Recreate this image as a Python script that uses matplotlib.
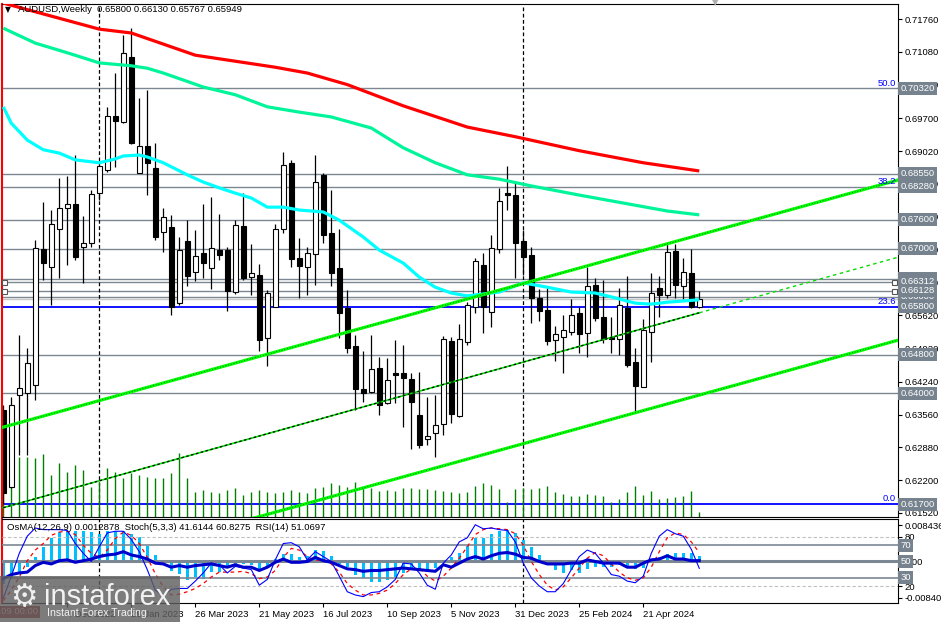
import numpy as np
import matplotlib
matplotlib.use("Agg")
import matplotlib.pyplot as plt
from matplotlib.patches import Rectangle

plt.rcParams['font.family'] = ['Liberation Sans', 'DejaVu Sans']

W, H = 941, 622
FS = 6.8

# weekly AUDUSD bars, bar 0 = week of 9 Oct 2022
opens = [0.6366, 0.6206, 0.6397, 0.6401, 0.6417, 0.6699, 0.6662, 0.6741, 0.6784, 0.6793,
         0.6703, 0.6712, 0.6815, 0.6863, 0.6975, 0.6963, 0.7097, 0.6857, 0.6913, 0.6867,
         0.6735, 0.6745, 0.6587, 0.6716, 0.6652, 0.6691, 0.6660, 0.6697, 0.6697, 0.6610,
         0.6747, 0.6641, 0.6645, 0.6515, 0.6579, 0.6741, 0.6878, 0.6681, 0.6662, 0.6689,
         0.6853, 0.6732, 0.6660, 0.6577, 0.6498, 0.6409, 0.6403, 0.6453, 0.6380, 0.6442,
         0.6442, 0.6430, 0.6355, 0.6305, 0.6318, 0.6336, 0.6509, 0.6353, 0.6507, 0.6579,
         0.6666, 0.6569, 0.6699, 0.6815, 0.6811, 0.6716, 0.6687, 0.6597, 0.6573, 0.6511,
         0.6517, 0.6527, 0.6566, 0.6525, 0.6625, 0.6558, 0.6517, 0.6513, 0.6577, 0.6465,
         0.6413, 0.6527, 0.6618, 0.6603, 0.6695, 0.6623, 0.6650, 0.65800]
highs = [0.6376, 0.6392, 0.6521, 0.6494, 0.6718, 0.6797, 0.6780, 0.6846, 0.6851, 0.6894,
         0.6768, 0.6822, 0.6874, 0.6994, 0.7064, 0.7143, 0.7157, 0.7012, 0.7029, 0.6919,
         0.6784, 0.6770, 0.6724, 0.6759, 0.6739, 0.6793, 0.6807, 0.6772, 0.6703, 0.6759,
         0.6815, 0.6710, 0.6668, 0.6614, 0.6751, 0.6900, 0.6884, 0.6722, 0.6703, 0.6894,
         0.6857, 0.6822, 0.6741, 0.6614, 0.6521, 0.6488, 0.6521, 0.6475, 0.6473, 0.6511,
         0.6500, 0.6442, 0.6444, 0.6392, 0.6397, 0.6519, 0.6517, 0.6544, 0.6589, 0.6681,
         0.6691, 0.6728, 0.6826, 0.6871, 0.6838, 0.6739, 0.6703, 0.6616, 0.6618, 0.6540,
         0.6562, 0.6596, 0.6579, 0.6662, 0.6639, 0.6635, 0.6558, 0.6618, 0.6643, 0.6494,
         0.6554, 0.6650, 0.6643, 0.6710, 0.6710, 0.6681, 0.6699, 0.66130]
lows = [0.6170, 0.6204, 0.6272, 0.6272, 0.6386, 0.6635, 0.6583, 0.6639, 0.6666, 0.6676,
        0.6629, 0.6703, 0.6800, 0.6859, 0.6869, 0.6960, 0.6916, 0.6857, 0.6811, 0.6718,
        0.6693, 0.6562, 0.6583, 0.6623, 0.6633, 0.6639, 0.6616, 0.6676, 0.6571, 0.6606,
        0.6635, 0.6604, 0.6488, 0.6457, 0.6579, 0.6732, 0.6662, 0.6597, 0.6603, 0.6625,
        0.6712, 0.6623, 0.6515, 0.6484, 0.6366, 0.6382, 0.6401, 0.6355, 0.6378, 0.6380,
        0.6330, 0.6285, 0.6286, 0.6293, 0.6268, 0.6314, 0.6339, 0.6351, 0.6500, 0.6567,
        0.6525, 0.6538, 0.6691, 0.6780, 0.6639, 0.6645, 0.6545, 0.6550, 0.6500, 0.6467,
        0.6442, 0.6521, 0.6484, 0.6475, 0.6550, 0.6504, 0.6484, 0.6480, 0.6455, 0.6361,
        0.6413, 0.6465, 0.6558, 0.6597, 0.6598, 0.6596, 0.6577, 0.65767]
closes = [0.6193, 0.6376, 0.6411, 0.6463, 0.6701, 0.6670, 0.6751, 0.6784, 0.6793, 0.6683,
          0.6712, 0.6813, 0.6871, 0.6975, 0.6965, 0.7106, 0.6919, 0.6913, 0.6878, 0.6724,
          0.6766, 0.6579, 0.6697, 0.6643, 0.6685, 0.6670, 0.6701, 0.6687, 0.6612, 0.6749,
          0.6639, 0.6650, 0.6511, 0.6608, 0.6741, 0.6873, 0.6679, 0.6664, 0.6691, 0.6838,
          0.6728, 0.6650, 0.6567, 0.6494, 0.6409, 0.6401, 0.6450, 0.6376, 0.6428, 0.6438,
          0.6432, 0.6382, 0.6293, 0.6312, 0.6334, 0.6513, 0.6357, 0.6513, 0.6583, 0.6674,
          0.6579, 0.6701, 0.6799, 0.6811, 0.6712, 0.6683, 0.6597, 0.6571, 0.6509, 0.6523,
          0.6531, 0.6562, 0.6523, 0.6623, 0.6556, 0.6513, 0.6513, 0.6583, 0.6459, 0.6415,
          0.6531, 0.6608, 0.6603, 0.6693, 0.6625, 0.6652, 0.6580, 0.65949]
volumes = [60, 59, 60, 60, 59, 63, 42, 54, 45, 52,
           47, 30, 35, 49, 45, 39, 44, 42, 40, 39,
           39, 44, 64, 39, 25, 27, 25, 24, 27, 29,
           22, 25, 27, 25, 24, 25, 27, 25, 24, 29,
           30, 34, 32, 30, 35, 29, 29, 26, 27, 26,
           29, 29, 28, 28, 27, 26, 25, 24, 25, 31,
           34, 32, 28, 15, 28, 29, 28, 29, 31, 25,
           23, 21, 21, 23, 22, 21, 15, 18, 25, 31,
           22, 26, 18, 19, 20, 21, 26, 5]

# moving averages, read at selected bars
ma_red_idx = [0, 12, 16, 24, 34, 38, 43, 50, 58, 64, 72, 80, 87]
ma_red = [0.7209, 0.7155, 0.7147, 0.7101, 0.7076, 0.7064, 0.7040, 0.6996, 0.6952, 0.6932,
          0.6903, 0.6878, 0.6861]
ma_green_idx = [0, 4, 8, 12, 16, 18, 20, 25, 29, 33, 37, 41, 46, 50, 54, 58, 62, 66, 72, 79, 83, 87]
ma_green = [0.7157, 0.7126, 0.7106, 0.7085, 0.7079, 0.7074, 0.7064, 0.7035, 0.7019, 0.6994,
            0.6983, 0.6973, 0.6950, 0.6909, 0.6878, 0.6853, 0.6844, 0.6830, 0.6811, 0.6790,
            0.6778, 0.6770]
ma_cyan_idx = [0, 1, 3, 5, 7, 9, 12, 14, 15, 17, 18, 20, 23, 25, 27, 29, 31, 33, 35, 37,
               40, 42, 45, 47, 50, 52, 54, 56, 58, 62, 65, 68, 71, 74, 76, 79, 81, 83, 87]
ma_cyan = [0.6994, 0.6960, 0.6925, 0.6905, 0.6898, 0.6884, 0.6878, 0.6886, 0.6892, 0.6894,
           0.6890, 0.6878, 0.6853, 0.6838, 0.6826, 0.6815, 0.6805, 0.6786, 0.6786, 0.6780,
           0.6776, 0.6759, 0.6724, 0.6697, 0.6670, 0.6641, 0.6620, 0.6608, 0.6602, 0.6610,
           0.6629, 0.6620, 0.6610, 0.6608, 0.6600, 0.6587, 0.6585, 0.6589, 0.6594]

# trend channel anchors (bar, price)
chan_upper = ([0, 111.8], [0.6330, 0.6842])
chan_lower = ([0, 111.8], [0.5998, 0.6510])
chan_mid = ([0, 87], [0.6163, 0.6567])
chan_mid_ext = ([87, 111.8], [0.6567, 0.6682])

gray_levels = [0.70320, 0.68550, 0.68280, 0.67600, 0.67000, 0.66380, 0.66312, 0.66000,
               0.66128, 0.64800, 0.64000]
blue_levels = [0.65800, 0.61700]
bid = 0.65949
fib_labels = [('50.0', 0.70320), ('38.2', 0.68280), ('23.6', 0.65800), ('0.0', 0.61700)]
price_ticks = [0.71760, 0.71080, 0.70400, 0.69700, 0.69020, 0.68340, 0.67660, 0.66980,
               0.66300, 0.65620, 0.64920, 0.64240, 0.63560, 0.62880, 0.62200, 0.61520]
separators = [12, 65]
date_idx = [8, 16, 24, 32, 40, 48, 56, 64, 72, 80]
date_labels = ['4 Dec 2022', '29 Jan 2023', '26 Mar 2023', '21 May 2023', '16 Jul 2023',
               '10 Sep 2023', '5 Nov 2023', '31 Dec 2023', '25 Feb 2024', '21 Apr 2024']

# indicator window
osma = [-0.0052, -0.0040, -0.0029, -0.0012, 0.0010, 0.0035, 0.0055, 0.0068, 0.0072, 0.0072,
        0.0071, 0.0068, 0.0065, 0.0071, 0.0071, 0.0071, 0.0065, 0.0057, 0.0037, 0.0016,
        -0.0002, -0.0021, -0.0029, -0.0044, -0.0037, -0.0040, -0.0025, -0.0025, -0.0013, -0.0013,
        -0.0005, -0.0009, -0.0021, -0.0013, 0.0006, 0.0018, 0.0018, 0.0010, 0.0014, 0.0026,
        0.0024, 0.0012, -0.0005, -0.0013, -0.0031, -0.0039, -0.0047, -0.0047, -0.0043, -0.0035,
        -0.0027, -0.0020, -0.0020, -0.0024, -0.0016, 0.0004, 0.0011, 0.0021, 0.0036, 0.0054,
        0.0054, 0.0064, 0.0072, 0.0073, 0.0066, 0.0050, 0.0033, 0.0015, -0.0006, -0.0020,
        -0.0026, -0.0020, -0.0026, -0.0017, -0.0012, -0.0012, -0.0013, -0.0008, -0.0013, -0.0018,
        -0.0016, 0.0005, 0.0011, 0.0017, 0.0021, 0.0021, 0.0019, 0.0013]
rsi = [29, 34, 36, 37, 45, 49, 47, 51, 52, 49,
       51, 53, 56, 58, 59, 62, 58, 56, 53, 48,
       47, 43, 45, 43, 45, 46, 47, 45, 43, 46,
       43, 43, 39, 43, 49, 53, 49, 49, 50, 55,
       51, 49, 45, 41, 40, 38, 39, 39, 40, 41,
       42, 41, 40, 39, 38, 46, 43, 48, 53, 56,
       53, 57, 60, 61, 59, 55, 54, 50, 47, 47,
       47, 48, 48, 52, 50, 48, 48, 48, 43, 43,
       48, 52, 53, 57, 53, 53, 51, 51.07]
stoch_main = [5, 32, 60, 81, 91, 89, 89, 89, 88, 72,
              60, 50, 68, 85, 87, 87, 77, 62, 40, 15,
              8, 16, 17, 17, 26, 36, 48, 46, 36, 44,
              42, 40, 21, 28, 52, 72, 73, 68, 52, 62,
              56, 50, 32, 13, 9, 7, 12, 13, 19, 28,
              48, 47, 36, 21, 16, 48, 58, 74, 79, 95,
              90, 91, 89, 88, 74, 48, 30, 20, 13, 13,
              23, 40, 56, 64, 60, 48, 34, 32, 26, 24,
              32, 60, 81, 89, 84, 81, 65, 41.61]
stoch_sig = [2, 15, 31, 51, 64, 72, 82, 86, 87, 83,
             70, 60, 55, 64, 78, 86, 82, 72, 55, 35,
             19, 9, 10, 13, 17, 23, 31, 37, 37, 37,
             38, 35, 29, 31, 39, 55, 66, 64, 56, 51,
             53, 47, 37, 23, 15, 9, 9, 11, 15, 23,
             34, 41, 42, 32, 26, 32, 42, 54, 68, 83,
             89, 91, 90, 89, 84, 70, 50, 34, 21, 15,
             19, 30, 42, 54, 61, 57, 47, 37, 30, 27,
             30, 43, 62, 79, 85, 83, 74, 60.83]

LVL = '#7b8793'
BOX = '#76838f'

fig = plt.figure(figsize=(W / 100, H / 100), dpi=100)
fig.patch.set_facecolor('white')

ax = fig.add_axes([2 / W, 1 - 517 / H, 896 / W, 513 / H])
ind = fig.add_axes([2 / W, 1 - 603 / H, 896 / W, 84 / H])
osc = ind.twinx()

xlim = (-0.16, 111.84)
for a in (ax, ind):
    a.set_xlim(*xlim)
    for s in a.spines.values():
        s.set_color('black')
        s.set_linewidth(0.8)
    a.spines['left'].set_color('red')
    a.spines['left'].set_linewidth(1.5)
for s in osc.spines.values():
    s.set_visible(False)

ax.set_ylim(0.61437, 0.72071)
ind.set_ylim(-0.00968, 0.00992)
osc.set_ylim(-0.8, 102.0)

# ---- main window
idx = np.arange(len(opens))
o = np.array(opens)
c = np.array(closes)

for lv in gray_levels:
    ax.axhline(lv, color=LVL, lw=1, zorder=1)
ax.axhline(bid, color='#c8c8c8', lw=1, zorder=1)
for lv in blue_levels:
    ax.axhline(lv, color='#0000ff', lw=1.3, zorder=1)
for s in separators:
    ax.axvline(s, color='black', lw=0.9, ls=(0, (3, 2)), zorder=1)
    ind.axvline(s, color='black', lw=0.9, ls=(0, (3, 2)), zorder=1)

ax.vlines(idx, 0, np.array(volumes) / 513, transform=ax.get_xaxis_transform(),
          color='#008000', lw=1, zorder=1.5)

ax.vlines(idx, lows, highs, color='black', lw=0.9, zorder=2)
body_lo = np.minimum(o, c)
body_h = np.maximum(np.abs(c - o), 0.00006)
ax.bar(idx, body_h, bottom=body_lo, width=0.68,
       color=['white' if cc >= oo else 'black' for oo, cc in zip(o, c)],
       edgecolor='black', lw=0.8, zorder=2.1)

ax.plot(ma_red_idx, ma_red, color='#ff0000', lw=2.3, zorder=3, solid_capstyle='butt')
ax.plot(ma_green_idx, ma_green, color='#00f59a', lw=2.3, zorder=3, solid_capstyle='butt')
ax.plot(ma_cyan_idx, ma_cyan, color='#00ffff', lw=2.3, zorder=3, solid_capstyle='butt')

for xs, ys in (chan_upper, chan_lower):
    ax.plot(xs, ys, color='#00ff00', lw=2.3, zorder=3.2)
    ax.plot(xs, ys, color='black', lw=0.5, ls=(0, (1, 3)), zorder=3.3)
ax.plot(*chan_mid, color='#00e000', lw=1.2, zorder=3.2)
ax.plot(*chan_mid, color='black', lw=0.9, ls=(0, (2, 2)), zorder=3.3)
ax.plot(*chan_mid_ext, color='#00dd00', lw=1, ls=(0, (2.5, 2.5)), zorder=3.2)

for lv in (0.66312, 0.66128):
    ax.plot([0.15, 111.4], [lv, lv], ls='none', marker='s', ms=3.6, mfc='white',
            mec='#555555', mew=0.8, zorder=4, clip_on=False)

for txt, lv in fib_labels:
    ax.text(111.6, lv + 0.0002, txt, color='#0000ff', fontsize=FS, ha='right', va='bottom', zorder=4)

ax.yaxis.tick_right()
ax.set_yticks(price_ticks)
ax.set_yticklabels([f'{v:.5f}' for v in price_ticks])
ax.tick_params(axis='y', direction='out', length=3, width=0.8, labelsize=FS, pad=2)
ax.set_xticks([])

for lv in gray_levels + blue_levels:
    ax.text(1 + 2.5 / 896, lv, f'{lv:.5f}', transform=ax.get_yaxis_transform(), ha='left',
            va='center', fontsize=FS, color='white', zorder=10, clip_on=False,
            bbox=dict(boxstyle='square,pad=0.22', fc=BOX, ec='none'))

# ---- indicator window
ind.bar(idx, osma, width=0.42, color='#00bfff', zorder=2)
for lv in (80, 20):
    osc.axhline(lv, color='#c0c0c0', lw=0.8, ls=(0, (3, 2)), zorder=1)
for lv in (70, 30):
    osc.axhline(lv, color=LVL, lw=1.2, zorder=1)
osc.axhline(50, color=LVL, lw=2.2, zorder=1)
osc.plot(idx, stoch_sig, color='#ff0000', lw=0.9, ls=(0, (3, 3)), zorder=3)
osc.plot(idx, stoch_main, color='#0000ff', lw=0.8, zorder=3)
osc.plot(idx, rsi, color='#0000cd', lw=2.2, zorder=4)

ind.yaxis.tick_right()
ind.set_yticks([0.008436, 0.0, -0.008407])
ind.set_yticklabels(['0.008436', '0.00', '-0.008407'])
ind.tick_params(axis='y', direction='out', length=3, width=0.8, labelsize=FS, pad=2)
osc.set_yticks([80, 70, 50, 30, 20])
osc.set_yticklabels(['80', '', '', '', '20'])
osc.tick_params(axis='y', direction='out', length=3, width=0.8, labelsize=FS, pad=2)
for lv in (70, 50, 30):
    osc.text(1 + 2.5 / 896, lv, str(lv), transform=osc.get_yaxis_transform(), ha='left',
             va='center', fontsize=FS, color='white', zorder=10, clip_on=False,
             bbox=dict(boxstyle='square,pad=0.22', fc=BOX, ec='none'))

ind.set_xticks(date_idx)
ind.set_xticklabels(date_labels)
for lab in ind.get_xticklabels():
    lab.set_ha('left')
ind.tick_params(axis='x', direction='out', length=3, width=0.8, labelsize=FS, pad=2)

# ---- texts
fig.text(5 / W, 1 - 10 / H, '\u25bc', fontsize=5.5, va='center', ha='left', family='DejaVu Sans')
fig.text(18 / W, 1 - 10 / H, 'AUDUSD,Weekly  0.65800 0.66130 0.65767 0.65949',
         fontsize=FS, va='center', ha='left')
fig.text(7 / W, 1 - 528 / H,
         'OsMA(12,26,9) 0.0012878  Stoch(5,3,3) 41.6144 60.8275  RSI(14) 51.0697',
         fontsize=FS, va='center', ha='left')
fig.text(715 / W, 1 - 3 / H, '\u25bc', fontsize=6, color='#b0b0b0', va='center',
         ha='center', family='DejaVu Sans')

# first time label and watermark in the lower-left corner
fig.text(38 / W, 1 - 612 / H, '2022.10.09 00:00', fontsize=FS, color='#ffdede', ha='right',
         va='center', bbox=dict(boxstyle='square,pad=0.2', fc='#a52a2a', ec='none'))
fig.patches.append(Rectangle((0, 0), 180 / W, 46 / H, transform=fig.transFigure,
                             fc='#5f5f5f', ec='none', alpha=0.82, zorder=20))
fig.text(24 / W, 1 - 598 / H, '\u2699', fontsize=22, color='#efefef', ha='center',
         va='center', family='DejaVu Sans', zorder=21)
fig.text(44 / W, 1 - 597 / H, 'instaforex', fontsize=21, color='#f2f2f2', ha='left',
         va='center', zorder=21)
fig.text(47 / W, 1 - 613 / H, 'Instant Forex Trading', fontsize=7.6, color='#f2f2f2',
         ha='left', va='center', zorder=21)

fig.savefig('out.png', dpi=100)
